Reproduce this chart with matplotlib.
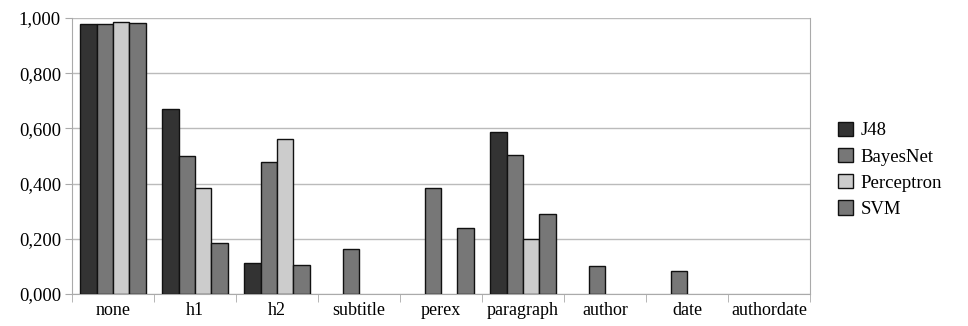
import numpy as np
import matplotlib.pyplot as plt
from matplotlib.ticker import FixedLocator, FuncFormatter

categories = ["none", "h1", "h2", "subtitle", "perex", "paragraph",
              "author", "date", "authordate"]
j48 = [0.978, 0.669, 0.112, 0, 0, 0.587, 0, 0, 0]
bayesnet = [0.978, 0.499, 0.477, 0.162, 0.383, 0.504, 0.103, 0.085, 0]
perceptron = [0.987, 0.383, 0.560, 0, 0, 0.200, 0, 0, 0]
svm = [0.983, 0.184, 0.104, 0, 0.240, 0.290, 0, 0, 0]
series_names = ["J48", "BayesNet", "Perceptron", "SVM"]
colors = ["#333333", "#777777", "#cccccc", "#777777"]

plt.rcParams['font.family'] = ['Liberation Serif', 'DejaVu Serif']

fig = plt.figure(figsize=(9.68, 3.26), dpi=100)
ax = fig.add_axes([0.0744, 0.098, 0.7624, 0.8468])

x = np.arange(len(categories))
w = 0.2
for i, (vals, name, c) in enumerate(zip([j48, bayesnet, perceptron, svm],
                                        series_names, colors)):
    vals = np.array(vals)
    keep = vals > 0  # zero bars are not drawn in the original
    ax.bar(x[keep] + (i - 1.5) * w, vals[keep], width=w, color=c,
           edgecolor="#111111", linewidth=1.0, label=name, zorder=3)

ax.set_xlim(-0.5, len(categories) - 0.5)
ax.set_ylim(0, 1.0)
ax.set_yticks(np.arange(0, 1.01, 0.2))
ax.yaxis.set_major_formatter(FuncFormatter(lambda v, p: f"{v:.3f}".replace(".", ",")))
ax.set_xticks(x)
ax.set_xticklabels(categories)
ax.xaxis.set_minor_locator(FixedLocator(np.arange(-0.5, len(categories), 1)))
ax.tick_params(axis="x", which="major", length=0, pad=6, labelsize=13)
ax.tick_params(axis="x", which="minor", length=6, color="#aaaaaa")
ax.tick_params(axis="y", length=5, color="#aaaaaa", labelsize=13.5, pad=3)

ax.grid(axis="y", color="#bbbbbb", linewidth=1, zorder=0)
for s in ["left", "bottom", "right"]:
    ax.spines[s].set_color("#aaaaaa")
ax.spines["top"].set_visible(False)

ax.legend(loc="center left", bbox_to_anchor=(1.015, 0.45), frameon=False,
          fontsize=13.5, handlelength=0.8, handleheight=0.8, handletextpad=0.4,
          labelspacing=0.45)

fig.savefig("out.png", dpi=100)
